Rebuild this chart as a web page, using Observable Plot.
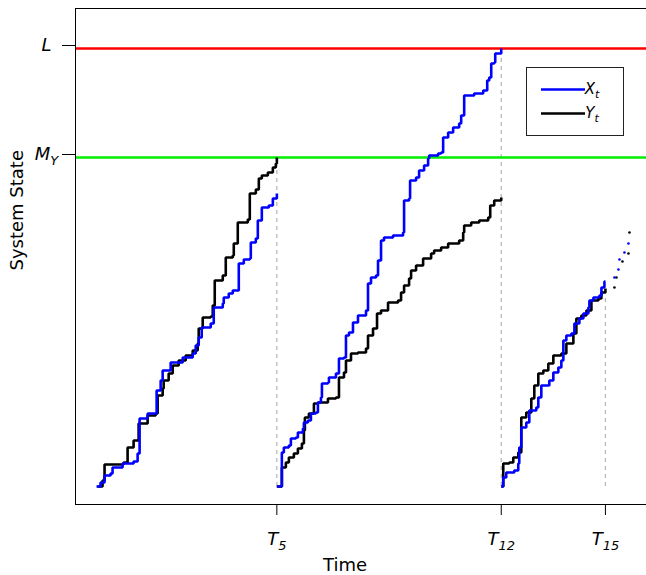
<!DOCTYPE html>
<html>
<head>
<meta charset="utf-8">
<script src="https://cdn.jsdelivr.net/npm/d3@7"></script>
<script src="https://cdn.jsdelivr.net/npm/@observablehq/plot@0.6"></script>
<style>
  html, body { margin: 0; padding: 0; background: #fff; }
  #chart { position: relative; width: 646px; height: 575px; overflow: hidden; }
</style>
</head>
<body>
<div id="chart"></div>
<script>
// ---- data (time, state) ----
const levelL = 438;   // L
const levelMY = 329;  // M_Y
const tickTimes = [201, 425, 529];
const tickLabels = ["T|5", "T|12", "T|15"];
const yTickValues = [levelL, levelMY];
const yTickLabels = ["L", "M|Y"];

const blue1 = [[21,0],[25,4],[29,11],[35,13],[37,19],[47,23],[58,25],[62,33],[64,68],[72,73],[79,73],[81,96],[85,106],[87,116],[95,124],[107,129],[117,133],[120,141],[123,149],[126,159],[135,163],[138,179],[147,183],[148,189],[153,193],[157,196],[163,223],[168,227],[174,228],[175,244],[180,248],[182,266],[186,279],[193,281],[197,288],[201,293]];
const black1 = [[22,0],[27,6],[29,22],[48,24],[52,39],[58,46],[63,63],[72,71],[80,73],[82,91],[87,98],[88,106],[93,113],[97,121],[103,126],[110,131],[117,136],[122,143],[123,158],[127,169],[135,170],[137,181],[139,206],[147,211],[150,229],[157,231],[158,243],[162,264],[172,267],[174,293],[180,297],[183,308],[186,311],[192,314],[197,319],[200,323],[201,329]];
const blue2 = [[201,0],[206,34],[208,39],[213,41],[215,48],[220,49],[222,54],[227,58],[228,64],[232,66],[235,73],[240,74],[242,84],[245,89],[246,103],[252,104],[253,109],[260,113],[263,128],[268,129],[270,151],[273,154],[277,164],[282,171],[290,176],[292,203],[295,209],[300,211],[302,226],[305,246],[308,249],[317,251],[327,254],[328,286],[333,288],[334,306],[340,309],[343,316],[348,321],[352,328],[353,331],[362,333],[365,334],[367,349],[372,354],[377,359],[383,363],[385,371],[388,391],[398,393],[407,396],[411,406],[413,409],[415,423],[418,424],[419,433],[425,438]];
const black2 = [[201,0],[206,19],[210,24],[213,29],[218,33],[222,38],[226,43],[228,56],[229,69],[233,73],[238,83],[242,84],[252,88],[260,89],[263,109],[268,114],[270,126],[275,133],[282,134],[290,138],[292,151],[297,158],[301,173],[305,176],[312,184],[322,186],[325,194],[328,201],[333,208],[335,216],[340,221],[347,228],[355,233],[358,236],[365,239],[372,243],[383,246],[387,254],[388,261],[395,264],[403,266],[412,269],[414,281],[418,286],[425,289]];
const blue3 = [[425,0],[427,9],[430,14],[438,16],[442,23],[443,39],[445,59],[450,64],[453,76],[460,79],[462,89],[465,101],[473,106],[477,114],[482,119],[485,126],[487,146],[490,151],[495,153],[498,163],[503,168],[507,173],[512,179],[513,186],[517,189],[523,191],[525,199],[528,205],[529,205]];
const black3 = [[425,0],[427,23],[433,24],[437,29],[442,34],[445,69],[450,74],[455,88],[458,101],[462,113],[467,116],[472,123],[477,131],[485,133],[490,143],[497,153],[500,168],[505,171],[510,176],[515,186],[522,188],[525,194],[529,198]];
const blueDots = [[538,209],[542,217],[543,227],[548,234],[552,243]];
const blackDots = [[538,199],[540,209],[546,225],[552,233],[553,254]];
const dashTops = [levelMY, levelL, 195];

const xDomain = [0, 570];
const yDomain = [-18, 478];

const lineOpts = (color) => ({x: d => d[0], y: d => d[1], stroke: color, strokeWidth: 2.6, curve: "step-after", strokeLinejoin: "miter", strokeLinecap: "butt"});

const plot = Plot.plot({
  width: 646,
  height: 575,
  marginLeft: 75,
  marginRight: 0,
  marginTop: 8,
  marginBottom: 71,
  style: {fontFamily: "'DejaVu Sans', sans-serif", fontSize: "18px", background: "#fff", color: "#000"},
  x: {domain: xDomain, axis: null},
  y: {domain: yDomain, axis: null},
  marks: [
    Plot.ruleX(tickTimes, {x: d => d, y1: 0, y2: (d, i) => dashTops[i], stroke: "#b4b4b4", strokeWidth: 1.2, strokeDasharray: "4,4"}),
    Plot.ruleY([levelL], {stroke: "#ff0000", strokeWidth: 2.6}),
    Plot.ruleY([levelMY], {stroke: "#00ee00", strokeWidth: 2.6}),
    Plot.line(black1, lineOpts("#000")),
    Plot.line(blue1, lineOpts("#0000ff")),
    Plot.line(black2, lineOpts("#000")),
    Plot.line(blue2, lineOpts("#0000ff")),
    Plot.line(black3, lineOpts("#000")),
    Plot.line(blue3, lineOpts("#0000ff")),
    Plot.dot(blackDots, {x: d => d[0], y: d => d[1], r: 1.3, fill: "#000", stroke: null}),
    Plot.dot(blueDots, {x: d => d[0], y: d => d[1], r: 1.3, fill: "#0000ff", stroke: null}),
    Plot.axisX(tickTimes, {tickSize: 11, tickPadding: 17, tickFormat: (d, i) => tickLabels[i], fontSize: 18, label: null}),
    Plot.axisY(yTickValues, {tickSize: 13, tickPadding: 16, textAnchor: "middle", tickFormat: (d, i) => yTickLabels[i], fontSize: 18, dy: -3, label: null}),
    Plot.frame({stroke: "#000", strokeWidth: 1, insetRight: -4}),
    Plot.text(["Time"], {frameAnchor: "bottom", dx: -16, dy: 61, lineAnchor: "middle", fontSize: 18}),
    Plot.text(["System State"], {frameAnchor: "left", dx: -58, dy: 14, rotate: -90, lineAnchor: "middle", fontSize: 18})
  ]
});

document.getElementById("chart").appendChild(plot);

// subscripts for tick labels
function subscriptify(sel, subSize, subDy) {
  d3.select(plot).selectAll(sel).each(function() {
    const t = d3.select(this);
    const s = t.text();
    if (!s.includes("|")) return;
    const [main, sub] = s.split("|");
    t.text(null);
    t.append("tspan").attr("font-style", "italic").text(main);
    t.append("tspan").attr("font-style", "italic").attr("font-size", subSize).attr("dy", subDy).text(sub);
  });
}
d3.select(plot).selectAll('g[aria-label="x-axis tick label"] text, g[aria-label="y-axis tick label"] text').attr("font-style", "italic");
subscriptify('g[aria-label="x-axis tick label"] text', 13, 5);
subscriptify('g[aria-label="y-axis tick label"] text', 13, 5);

// legend
const svg = d3.select(plot);
const lg = svg.append("g").attr("class", "legend");
lg.append("rect").attr("x", 526.5).attr("y", 67.5).attr("width", 97).attr("height", 68).attr("fill", "#fff").attr("stroke", "#222");
const entries = [{name: "X", color: "#0000ff"}, {name: "Y", color: "#000"}];
entries.forEach((e, i) => {
  const y = 89.5 + i * 24;
  lg.append("line").attr("x1", 541).attr("x2", 585).attr("y1", y).attr("y2", y).attr("stroke", e.color).attr("stroke-width", 2.6);
  const tx = lg.append("text").attr("x", 592).attr("y", y + 4).attr("font-size", 15).attr("font-style", "italic").attr("fill", "#000");
  tx.append("tspan").text(e.name);
  tx.append("tspan").attr("font-size", 11).attr("dy", 4).text("t");
});
</script>
</body>
</html>
